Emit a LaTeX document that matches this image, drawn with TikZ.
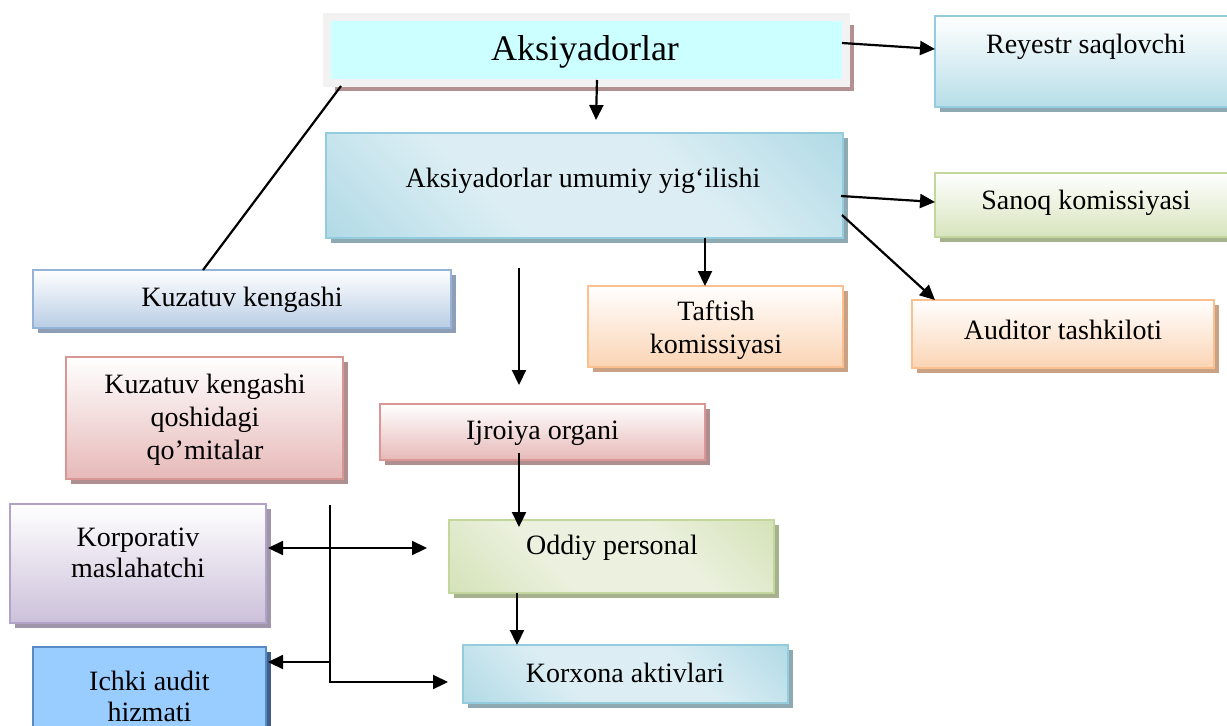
\documentclass[tikz,border=0pt]{standalone}
\usepackage{fontspec}
\setmainfont{Liberation Serif}
\usetikzlibrary{shadows,calc,arrows.meta}
\definecolor{frameG}{HTML}{F2F2F2}
\definecolor{cyanF}{HTML}{CCFFFF}
\definecolor{brownS}{HTML}{B39191}
\definecolor{tealB}{HTML}{93CDDD}
\definecolor{tealD}{HTML}{96CEDD}
\definecolor{tealL}{HTML}{DCEEF4}
\definecolor{tealBot}{HTML}{B7DEE8}
\definecolor{tealS}{HTML}{8EA9B2}
\definecolor{greenB}{HTML}{C3D69B}
\definecolor{greenBot}{HTML}{D7E4BD}
\definecolor{greenD}{HTML}{C6D9A0}
\definecolor{greenL}{HTML}{EBF1DE}
\definecolor{greenS}{HTML}{A6B28E}
\definecolor{blueB}{HTML}{95B3D7}
\definecolor{blueBot}{HTML}{B9CDE5}
\definecolor{blueS}{HTML}{8D9EB5}
\definecolor{orB}{HTML}{FAC090}
\definecolor{orBot}{HTML}{FBD4B4}
\definecolor{orS}{HTML}{C9A286}
\definecolor{pinkB}{HTML}{D99694}
\definecolor{pinkBot}{HTML}{E6B9B8}
\definecolor{pinkS}{HTML}{AE8E8E}
\definecolor{purB}{HTML}{B3A2C7}
\definecolor{purBot}{HTML}{CCC0DA}
\definecolor{purS}{HTML}{9F97A9}
\definecolor{ichF}{HTML}{99CCFF}
\definecolor{ichB}{HTML}{5A8AC6}
\definecolor{ichS}{HTML}{3F5F8A}
\pgfdeclarehorizontalshading{tealband}{100bp}{color(0bp)=(tealD); color(38bp)=(tealL); color(62bp)=(tealL); color(100bp)=(tealD)}
\pgfdeclarehorizontalshading{greenband}{100bp}{color(0bp)=(greenD); color(38bp)=(greenL); color(62bp)=(greenL); color(100bp)=(greenD)}
\tikzset{
  bx/.style={rectangle, inner sep=0pt, outer sep=0pt, line width=2.5pt},
  sh/.style={drop shadow={shadow xshift=5pt, shadow yshift=-5pt, fill=#1, opacity=1}},
  grad/.style 2 args={draw=#1, top color=white, bottom color=#2},
  band/.style 2 args={draw=#1, shading=#2, shading angle=45},
  txt/.style={font=\fontsize{28}{33}\selectfont, align=center, inner sep=0pt},
  arr/.style={line width=2.2pt, -{Triangle[length=15pt,width=14pt]}},
  dbl/.style={line width=2.2pt, {Triangle[length=15pt,width=14pt]}-{Triangle[length=15pt,width=14pt]}},
  ln/.style={line width=2.2pt}
}
\begin{document}
\begin{tikzpicture}[x=1pt,y=-1pt]
\useasboundingbox (0,0) rectangle (1227,726);
% boxes
\node[bx, line width=8pt, draw=frameG, fill=cyanF, minimum width=519, minimum height=66,
  drop shadow={shadow xshift=8pt, shadow yshift=-8pt, fill=brownS, opacity=1}] (aks) at (586.5,50) {};
\node[bx, grad={tealB}{tealBot}, sh=tealS, minimum width=300, minimum height=91] (rey) at (1085,61.5) {};
\node[bx, band={tealB}{tealband}, sh=tealS, minimum width=517, minimum height=105] (umu) at (584.5,185.5) {};
\node[bx, grad={greenB}{greenBot}, sh=greenS, minimum width=300, minimum height=64] (san) at (1085,205) {};
\node[bx, grad={blueB}{blueBot}, sh=blueS, minimum width=418, minimum height=58] (kuz) at (242,299) {};
\node[bx, grad={orB}{orBot}, sh=orS, minimum width=255, minimum height=81] (taf) at (715.5,326.5) {};
\node[bx, grad={orB}{orBot}, sh=orS, minimum width=302, minimum height=68] (aud) at (1063,334) {};
\node[bx, grad={pinkB}{pinkBot}, sh=pinkS, minimum width=277, minimum height=122] (qom) at (204.5,418) {};
\node[bx, grad={pinkB}{pinkBot}, sh=pinkS, minimum width=325, minimum height=56] (ijr) at (542.5,432) {};
\node[bx, grad={purB}{purBot}, sh=purS, minimum width=256, minimum height=119] (kp) at (138,563.5) {};
\node[bx, band={greenB}{greenband}, sh=greenS, minimum width=325, minimum height=73] (odd) at (611.5,556.5) {};
\node[bx, draw=ichB, fill=ichF, sh=ichS, minimum width=233, minimum height=93] (ich) at (149.5,693.5) {};
\node[bx, band={tealB}{tealband}, sh=tealS, minimum width=325, minimum height=58] (kor) at (625.5,674) {};
% texts
\node[txt, font=\fontsize{36}{40}\selectfont] (aks-t) at (585,52) {Aksiyadorlar};
\node[txt] (rey-t) at (1086,47) {Reyestr saqlovchi};
\node[txt] (umu-t) at (583,181) {Aksiyadorlar umumiy yig‘ilishi};
\node[txt] (san-t) at (1086,203) {Sanoq komissiyasi};
\node[txt] (kuz-t) at (242,300) {Kuzatuv kengashi};
\node[txt] (taf-t) at (716,330) {Taftish\\komissiyasi};
\node[txt] (aud-t) at (1063,330) {Auditor tashkiloti};
\node[txt] (qom-t) at (205,420) {Kuzatuv kengashi\\qoshidagi\\qo’mitalar};
\node[txt] (ijr-t) at (542.5,433) {Ijroiya organi};
\node[txt] (kp-t) at (138,553) {Korporativ\\[-2pt]maslahatchi};
\node[txt] (ich-t) at (149.5,696) {Ichki audit\\[-2pt]hizmati};
\node[txt] (odd-t) at (612,548) {Oddiy personal};
\node[txt] (kor-t) at (625,673) {Korxona aktivlari};
% free coordinates
\coordinate (f1) at (519,268);
\coordinate (f2) at (519,385);
\coordinate (v1) at (330,505);
\coordinate (tafin) at ($(taf.north)+(-10.5,0)$);
\coordinate (korin) at ($(kor.west)+(-15,8)$);
\coordinate (ichin) at ($(ich.east)+(2,-31.5)$);
% connectors
\draw[arr] ($(aks.east)+(-4,-7)$) -- ($(rey.west)+(0,-12.5)$);
\draw[arr] ($(aks.south)+(10.5,-3)$) -- ($(umu.north)+(11.5,-13)$);
\draw[ln] ($(aks.south west)+(14,3)$) -- ($(kuz.north)+(-39,0)$);
\draw[arr] ($(umu.east)+(-2,10.5)$) -- ($(san.west)+(0,-3)$);
\draw[arr] ($(umu.east)+(-1,29.5)$) -- ($(aud.north west)+(23,0)$);
\draw[arr] (umu.south -| tafin) -- (tafin);
\draw[arr] (f1) -- (f2);
\draw[arr] ($(ijr.south)+(-23.5,-7)$) -- ($(odd.north)+(-92.5,7)$);
\draw[arr] ($(odd.south)+(-94.5,0)$) -- ($(kor.north)+(-108.5,0)$);
\draw[arr] (v1) -- (v1 |- korin) -- (korin);
\draw[dbl] ($(kp.east)+(2,-15.5)$) -- ($(odd.west)+(-22,-8.5)$);
\draw[arr] (v1 |- ichin) -- (ichin);
\end{tikzpicture}
\end{document}
